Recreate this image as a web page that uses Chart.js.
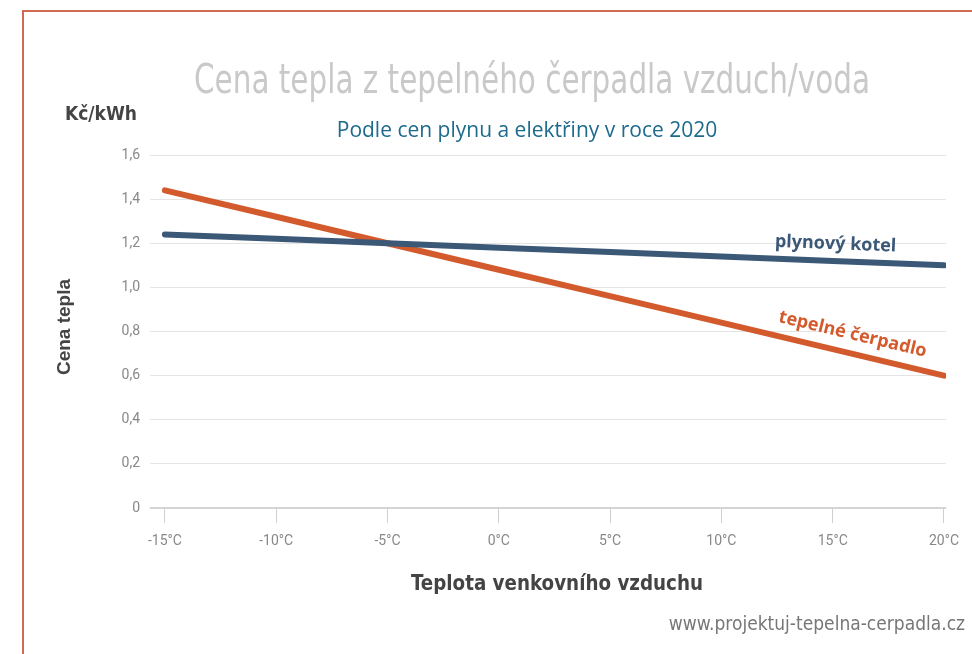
<!DOCTYPE html>
<html>
<head>
<meta charset="utf-8">
<script src="https://cdn.jsdelivr.net/npm/chart.js@4"></script>
<style>
  html, body { margin: 0; padding: 0; background: #fff; }
  #wrap { width: 972px; height: 654px; position: relative; }
</style>
</head>
<body>
<div id="wrap"><canvas id="heatChart"></canvas></div>
<script>
// --- data ---
const temperatures = [-15, -10, -5, 0, 5, 10, 15, 20];
const gasBoiler = [1.24, 1.22, 1.20, 1.18, 1.16, 1.14, 1.12, 1.10];
const heatPump = [1.44, 1.32, 1.20, 1.08, 0.96, 0.84, 0.72, 0.60];
const yTicks = [0, 0.2, 0.4, 0.6, 0.8, 1.0, 1.2, 1.4, 1.6];

const toPoints = vals => temperatures.map((t, i) => ({ x: t, y: vals[i] }));

const narrow = "'Liberation Sans Narrow', 'DejaVu Sans Condensed', Roboto, sans-serif";

// frame + free texts (titles, line labels, watermark)
const decorations = {
    id: 'decorations',
    beforeDraw(chart) {
        const ctx = chart.ctx;
        ctx.save();
        ctx.fillStyle = '#fff';
        ctx.fillRect(0, 0, chart.width, chart.height);
        ctx.strokeStyle = '#d06a52';
        ctx.lineWidth = 2;
        ctx.beginPath();
        ctx.moveTo(23, 654);
        ctx.lineTo(23, 11);
        ctx.lineTo(972, 11);
        ctx.stroke();
        ctx.restore();
    },
    afterDatasetsDraw(chart) {
        const ctx = chart.ctx;
        const xs = chart.scales.x, ys = chart.scales.y;
        ctx.save();
        ctx.textAlign = 'center';
        ctx.textBaseline = 'middle';

        ctx.fillStyle = '#c9c9c9';
        ctx.font = "40px " + narrow;
        ctx.fillText('Cena tepla z tepelného čerpadla vzduch/voda', 532, 83, 676);

        ctx.fillStyle = '#1d6a8c';
        ctx.font = "21px 'Open Sans', sans-serif";
        ctx.fillText('Podle cen plynu a elektřiny v roce 2020', 527, 131, 446);

        ctx.fillStyle = '#444';
        ctx.font = "bold 19px " + narrow;
        ctx.fillText('Kč/kWh', 101, 115, 78);

        ctx.font = "bold 21px " + narrow;
        ctx.fillText('Teplota venkovního vzduchu', 557, 585, 292);

        ctx.save();
        ctx.translate(65, 327);
        ctx.rotate(-Math.PI / 2);
        ctx.font = "bold 19px 'Liberation Sans', Arial, sans-serif";
        ctx.fillText('Cena tepla', 0, 0, 98);
        ctx.restore();

        ctx.fillStyle = '#777';
        ctx.textAlign = 'right';
        ctx.font = "19px " + narrow;
        ctx.fillText('www.projektuj-tepelna-cerpadla.cz', 965, 625, 320);

        // labels sitting on the lines
        const lineLabel = (text, vals, t, lift, color, width) => {
            const last = vals.length - 1;
            const slope = (vals[last] - vals[0]) / (temperatures[last] - temperatures[0]);
            const v = vals[0] + slope * (t - temperatures[0]);
            const px = xs.getPixelForValue(t);
            const py = ys.getPixelForValue(v);
            const ang = Math.atan2(
                ys.getPixelForValue(vals[last]) - ys.getPixelForValue(vals[0]),
                xs.getPixelForValue(temperatures[last]) - xs.getPixelForValue(temperatures[0]));
            ctx.save();
            ctx.translate(px, py);
            ctx.rotate(ang);
            ctx.fillStyle = color;
            ctx.textAlign = 'center';
            ctx.font = "bold 18px 'Open Sans', sans-serif";
            ctx.fillText(text, 0, -lift, width);
            ctx.restore();
        };
        lineLabel('plynový kotel', gasBoiler, 15.1, 17, '#3b5877', 132);
        lineLabel('tepelné čerpadlo', heatPump, 15.7, 19, '#d35a2c', 162);
        ctx.restore();
    }
};

Chart.defaults.font.family = 'Roboto, sans-serif';

const ctx = document.getElementById('heatChart').getContext('2d');
new Chart(ctx, {
    type: 'line',
    data: {
        datasets: [
            {
                label: 'plynový kotel',
                data: toPoints(gasBoiler),
                borderColor: '#3b5877',
                borderWidth: 6,
                borderCapStyle: 'round',
                pointRadius: 0,
                tension: 0
            },
            {
                label: 'tepelné čerpadlo',
                data: toPoints(heatPump),
                borderColor: '#d35a2c',
                borderWidth: 6,
                borderCapStyle: 'round',
                pointRadius: 0,
                tension: 0
            }
        ]
    },
    options: {
        responsive: true,
        maintainAspectRatio: false,
        animation: false,
        layout: { padding: { top: 155, right: 26, bottom: 0, left: 0 } },
        plugins: {
            legend: { display: false },
            tooltip: { enabled: false }
        },
        scales: {
            x: {
                type: 'linear',
                min: -15.67,
                max: 20.09,
                afterBuildTicks: s => { s.ticks = temperatures.map(v => ({ value: v })); },
                afterFit: s => { s.height = 146; },
                border: { display: false },
                grid: {
                    drawOnChartArea: false,
                    drawTicks: true,
                    tickLength: 15,
                    color: '#cfcfcf'
                },
                ticks: {
                    padding: 10,
                    color: '#888',
                    font: { size: 14 },
                    maxRotation: 0,
                    callback: v => v + '°C'
                }
            },
            y: {
                min: 0,
                max: 1.6,
                afterBuildTicks: s => { s.ticks = yTicks.map(v => ({ value: v })); },
                afterFit: s => { s.width = 150; },
                border: { display: false },
                grid: {
                    drawTicks: false,
                    color: c => c.tick && c.tick.value === 0 ? '#d4d4d4' : '#e4e4e4',
                    lineWidth: c => c.tick && c.tick.value === 0 ? 2 : 1
                },
                ticks: {
                    padding: 10,
                    color: '#888',
                    font: { size: 14 },
                    callback: v => v === 0 ? '0' : v.toFixed(1).replace('.', ',')
                }
            }
        }
    },
    plugins: [decorations]
});
</script>
</body>
</html>
